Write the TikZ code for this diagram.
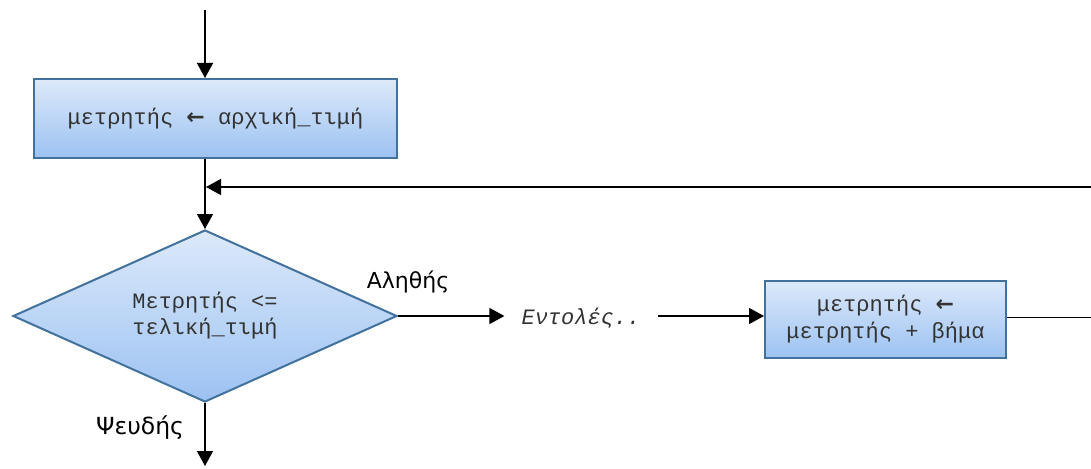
\documentclass[tikz,border=0pt]{standalone}
\usepackage{fontspec}
\setmainfont{DejaVu Sans}
\newfontfamily\codefont{Liberation Mono}
\newfontfamily\arrowfont{DejaVu Sans}
\usetikzlibrary{arrows.meta,shapes.geometric}
\definecolor{boxtop}{HTML}{DCE9FA}
\definecolor{boxbot}{HTML}{9CC2F2}
\definecolor{boxline}{HTML}{41719C}
\definecolor{codeink}{HTML}{333333}
\tikzset{
  proc/.style={rectangle, draw=boxline, line width=2pt, top color=boxtop, bottom color=boxbot,
    text=codeink, font=\codefont\fontsize{22}{27}\selectfont, align=center, inner sep=0pt},
  decision/.style={diamond, draw=boxline, line width=2pt, top color=boxtop, bottom color=boxbot,
    text=codeink, font=\codefont\fontsize{22}{26}\selectfont, align=center, inner sep=0pt, aspect=2.233},
  flow/.style={line width=1.3pt, -{Triangle[length=15pt,width=16pt]}},
  lbl/.style={font=\fontsize{22}{26}\selectfont, inner sep=0pt},
}
\newcommand{\larr}{{\arrowfont\bfseries ←}}
\begin{document}
\begin{tikzpicture}[x=1pt,y=-1pt]
\useasboundingbox (0,0) rectangle (1091,468);

% blocks
\node[proc, minimum width=363pt, minimum height=79pt] (init) at (215.5,118.5)
  {μετρητής \larr{} αρχική\_τιμή};
\node[decision, minimum width=384pt, minimum height=172pt] (dec) at (205,316)
  {Μετρητής <=\\τελική\_τιμή};
\node[font=\codefont\itshape\fontsize{22}{26}\selectfont, text=codeink, inner xsep=17pt, inner ysep=4pt] (cmds) at (581,318) {Εντολές..};
\node[proc, minimum width=241pt, minimum height=77pt] (incr) at (885.5,319.5)
  {μετρητής \larr\\μετρητής + βήμα};

% labels
\node[lbl] (yes) at (408,282) {Αληθής};
\node[lbl, font=\fontsize{23.5}{28}\selectfont] (no) at (140,428) {Ψευδής};

% connector end points
\coordinate (start) at (205,10);
\coordinate (stop) at (205,466);
\coordinate (join) at (205,187);

% connectors
\draw[flow] (start) -- (start |- init.north);
\draw[flow] (dec.north |- init.south) -- (dec.north);
\draw[flow] (dec.east) -- (dec.east -| cmds.west);
\draw[flow] (dec.east -| cmds.east) -- (dec.east -| incr.west);
\draw[flow] ([yshift=2pt]incr.east) -- ++(92pt,0) |- ([xshift=1pt]join);
\draw[flow] (dec.south) -- (stop);
\end{tikzpicture}
\end{document}
